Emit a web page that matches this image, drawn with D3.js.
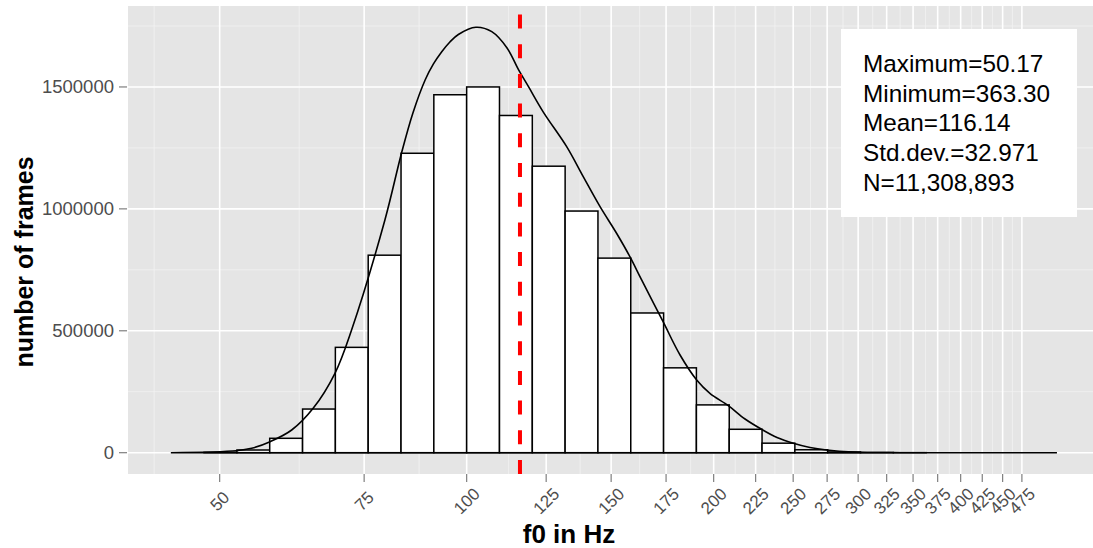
<!DOCTYPE html>
<html>
<head>
  <title>f0 histogram</title>
  <script src="https://d3js.org/d3.v7.min.js"></script>
  <style>
    body { margin: 0; background: #fff; }
    text { font-family: "Liberation Sans", Arial, sans-serif; }
  </style>
</head>
<body>
  <div id="chart"></div>

  <script>
    // histogram bins: lower edge in Hz (bins are 0.04 wide in log10) and counts
    var binStarts = [47.86, 52.48, 57.54, 63.10, 69.18, 75.86, 83.18, 91.20, 100.00, 109.65,
                     120.23, 131.83, 144.54, 158.49, 173.78, 190.55, 208.93, 229.09, 251.19,
                     275.42, 301.99, 331.13];
    var binCounts = [1500, 11000, 59000, 179000, 432000, 810000, 1228000, 1468000, 1500000, 1383000,
                     1175000, 991000, 798000, 573000, 348000, 196000, 96000, 39000, 12000,
                     3000, 800, 200];
    var binLog10Width = 0.04;

    // density curve scaled to counts
    var densHz = [43.6, 52.4, 54.7, 57.6, 61.2, 65.0, 69.1, 72.4, 79.5, 83.3, 86.0, 89.0, 91.1,
                  93.2, 95.4, 97.7, 102.6, 107.3, 112.0, 115.7, 119.0, 124.0, 132.4, 138.7, 145.4,
                  152.3, 158.1, 163.4, 173.6, 182.0, 190.7, 197.9, 208.4, 218.4, 228.8, 238.9,
                  250.1, 262.1, 274.6, 295.7, 337.3, 524.1];
    var densCount = [0, 8200, 18000, 45100, 93100, 182100, 325700, 503300, 954500, 1229300,
                     1393300, 1528700, 1594300, 1643500, 1684600, 1715300, 1744900, 1726800,
                     1660000, 1570000, 1500000, 1397000, 1255100, 1132100, 1009000, 899900,
                     803900, 708400, 536100, 400700, 298200, 243600, 192800, 138200, 96000,
                     62300, 38600, 21300, 11100, 2900, 0, 0];

    var meanF0 = 116.14;

    var xTicks = [50, 75, 100, 125, 150, 175, 200, 225, 250, 275, 300, 325, 350, 375, 400, 425, 450, 475];
    var xMinorTicks = [41.6, 62.5, 87.5, 112.5, 137.5, 162.5, 187.5, 212.5, 237.5, 262.5, 287.5,
                       312.5, 337.5, 362.5, 387.5, 412.5, 437.5, 462.5];
    var yTicks = [0, 500000, 1000000, 1500000];
    var yMinorTicks = [250000, 750000, 1250000, 1750000];

    var statLines = ["Maximum=50.17", "Minimum=363.30", "Mean=116.14", "Std.dev.=32.971", "N=11,308,893"];

    var W = 1093, H = 548;
    var panel = {left: 128, top: 6, right: 1093, bottom: 474};

    var svg = d3.select("#chart")
      .append("svg")
      .attr("width", W)
      .attr("height", H);

    var x = d3.scaleLog()
      .domain([38.66, 579.9])
      .range([panel.left, panel.right]);

    var y = d3.scaleLinear()
      .domain([-87400, 1832000])
      .range([panel.bottom, panel.top]);

    // panel background + grid
    svg.append("rect")
      .attr("x", panel.left)
      .attr("y", panel.top)
      .attr("width", panel.right - panel.left)
      .attr("height", panel.bottom - panel.top)
      .attr("fill", "#e5e5e5");

    svg.selectAll(".xminor")
      .data(xMinorTicks)
      .enter().append("line")
      .attr("x1", d => x(d)).attr("x2", d => x(d))
      .attr("y1", panel.top).attr("y2", panel.bottom)
      .attr("stroke", "#f2f2f2")
      .attr("stroke-width", 0.8);

    svg.selectAll(".yminor")
      .data(yMinorTicks)
      .enter().append("line")
      .attr("x1", panel.left).attr("x2", panel.right)
      .attr("y1", d => y(d)).attr("y2", d => y(d))
      .attr("stroke", "#f2f2f2")
      .attr("stroke-width", 0.8);

    svg.selectAll(".xmajor")
      .data(xTicks)
      .enter().append("line")
      .attr("x1", d => x(d)).attr("x2", d => x(d))
      .attr("y1", panel.top).attr("y2", panel.bottom)
      .attr("stroke", "#fff")
      .attr("stroke-width", 1.6);

    svg.selectAll(".ymajor")
      .data(yTicks)
      .enter().append("line")
      .attr("x1", panel.left).attr("x2", panel.right)
      .attr("y1", d => y(d)).attr("y2", d => y(d))
      .attr("stroke", "#fff")
      .attr("stroke-width", 1.6);

    // bars
    var bins = binStarts.map((s, i) => ({x0: s, x1: s * Math.pow(10, binLog10Width), n: binCounts[i]}));

    svg.selectAll(".bar")
      .data(bins)
      .enter().append("rect")
      .attr("x", d => x(d.x0))
      .attr("y", d => y(d.n))
      .attr("width", d => x(d.x1) - x(d.x0))
      .attr("height", d => y(0) - y(d.n))
      .attr("fill", "#fff")
      .attr("stroke", "#000")
      .attr("stroke-width", 1.5);

    // density outline (closed along the baseline)
    var dens = densHz.map((h, i) => [h, densCount[i]]);
    var area = d3.area()
      .x(d => x(d[0]))
      .y0(y(0))
      .y1(d => y(d[1]))
      .curve(d3.curveCatmullRom.alpha(0.5));

    svg.append("path")
      .datum(dens)
      .attr("d", area)
      .attr("fill", "none")
      .attr("stroke", "#000")
      .attr("stroke-width", 1.6);

    // mean line
    svg.append("line")
      .attr("x1", x(meanF0)).attr("x2", x(meanF0))
      .attr("y1", panel.bottom).attr("y2", panel.top)
      .attr("stroke", "#ff0000")
      .attr("stroke-width", 4)
      .attr("stroke-dasharray", "14,15.7");

    // y axis
    var yAxis = svg.append("g");
    yAxis.selectAll("line")
      .data(yTicks)
      .enter().append("line")
      .attr("x1", panel.left - 9).attr("x2", panel.left - 1)
      .attr("y1", d => y(d)).attr("y2", d => y(d))
      .attr("stroke", "#7f7f7f")
      .attr("stroke-width", 1.2);
    yAxis.selectAll("text")
      .data(yTicks)
      .enter().append("text")
      .attr("x", panel.left - 14)
      .attr("y", d => y(d))
      .attr("dy", "0.35em")
      .attr("text-anchor", "end")
      .attr("font-size", 18.5)
      .attr("fill", "#4d4d4d")
      .text(d => d3.format("d")(d));

    // x axis
    var xAxis = svg.append("g");
    xAxis.selectAll("line")
      .data(xTicks)
      .enter().append("line")
      .attr("x1", d => x(d)).attr("x2", d => x(d))
      .attr("y1", panel.bottom).attr("y2", panel.bottom + 8)
      .attr("stroke", "#7f7f7f")
      .attr("stroke-width", 1.2);
    xAxis.selectAll("text")
      .data(xTicks)
      .enter().append("text")
      .attr("transform", d => "translate(" + x(d) + "," + 501 + ") rotate(-45)")
      .attr("dy", "0.35em")
      .attr("text-anchor", "middle")
      .attr("font-size", 17)
      .attr("fill", "#4d4d4d")
      .text(d => d);

    // axis titles
    svg.append("text")
      .attr("x", 569)
      .attr("y", 543)
      .attr("text-anchor", "middle")
      .attr("font-size", 26)
      .attr("font-weight", "bold")
      .text("f0 in Hz");

    svg.append("text")
      .attr("transform", "translate(33,262) rotate(-90)")
      .attr("text-anchor", "middle")
      .attr("font-size", 25)
      .attr("font-weight", "bold")
      .text("number of frames");

    // stats box
    svg.append("rect")
      .attr("x", 841).attr("y", 29)
      .attr("width", 236).attr("height", 188)
      .attr("fill", "#fff");

    svg.selectAll(".stat")
      .data(statLines)
      .enter().append("text")
      .attr("x", 863)
      .attr("y", (d, i) => 72 + i * 29.7)
      .attr("font-size", 24.3)
      .attr("fill", "#000")
      .text(d => d);
  </script>
</body>
</html>
